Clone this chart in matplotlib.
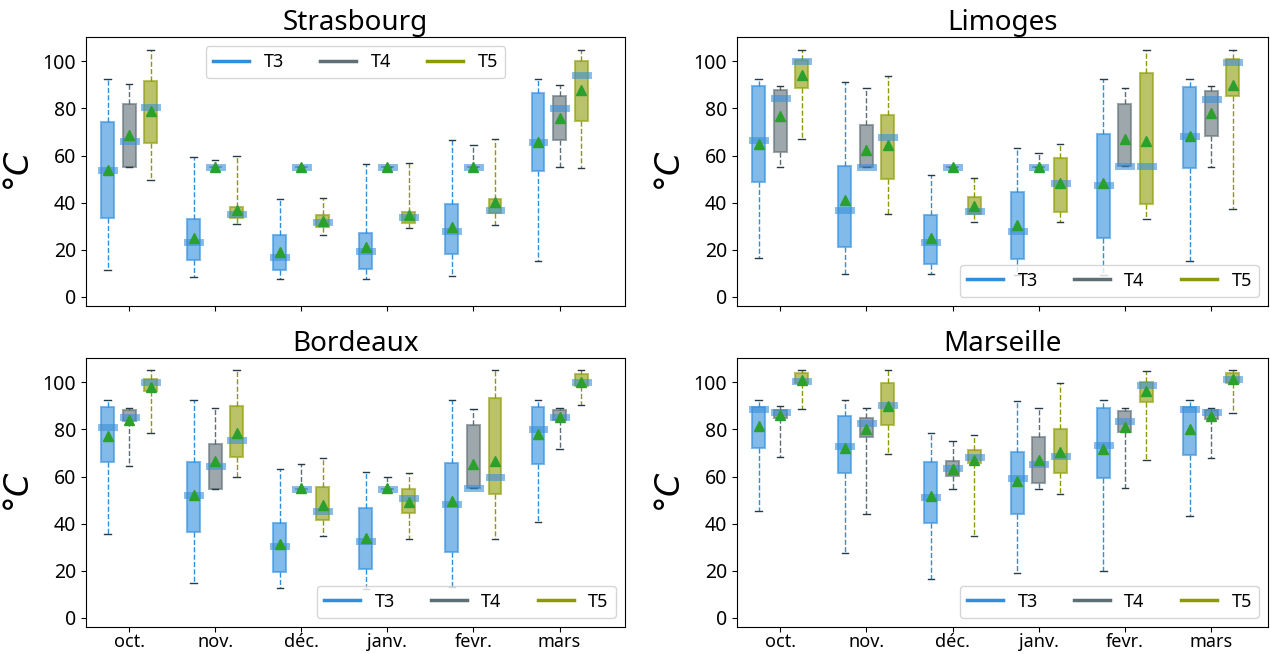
import matplotlib
matplotlib.use("Agg")
import matplotlib.pyplot as plt
from matplotlib.lines import Line2D

plt.rcParams["font.family"] = ["Noto Sans", "DejaVu Sans"]

months = ["oct.", "nov.", "déc.", "janv.", "fevr.", "mars"]
series = ["T3", "T4", "T5"]
colors = {"T3": "#2f8fdc", "T4": "#5d6e75", "T5": "#8c9b05"}

# one row per month: whisker low, q1, median, q3, whisker high, mean
strasbourg_t3 = [[11.5, 33.3, 53.8, 74.2, 92.6, 53.8], [8.2, 15.5, 23.4, 32.8, 59.4, 25.1],
                 [7.5, 11.2, 16.7, 26.0, 41.3, 19.1], [7.4, 11.6, 19.4, 27.1, 56.3, 21.3],
                 [8.9, 18.0, 28.1, 39.3, 66.7, 29.8], [15.2, 53.5, 65.8, 86.5, 92.6, 65.8]]
strasbourg_t4 = [[55.2, 55.2, 66.0, 82.0, 90.2, 68.8], [55.2, 55.2, 55.2, 55.2, 57.9, 55.0],
                 [55.2, 55.2, 55.2, 55.2, 55.2, 55.2], [55.2, 55.2, 55.2, 55.2, 55.2, 55.2],
                 [55.2, 55.2, 55.2, 55.2, 64.3, 55.2], [55.2, 66.8, 80.3, 85.1, 89.8, 76.0]]
strasbourg_t5 = [[49.5, 65.5, 80.6, 91.5, 105.0, 79.1], [30.8, 33.5, 35.3, 38.3, 59.9, 36.9],
                 [26.1, 29.4, 31.6, 34.9, 41.8, 32.2], [29.1, 31.5, 33.8, 35.9, 56.9, 34.9],
                 [30.5, 35.5, 37.0, 41.4, 67.1, 40.1], [54.6, 74.8, 94.3, 100.1, 105.0, 87.9]]

limoges_t3 = [[16.3, 48.9, 66.5, 89.4, 92.6, 65.1], [9.5, 21.3, 36.7, 55.5, 91.3, 41.1],
              [9.5, 14.0, 23.1, 34.8, 51.5, 25.0], [9.2, 16.2, 27.9, 44.4, 63.1, 30.6],
              [9.2, 25.1, 47.4, 69.1, 92.6, 48.5], [15.3, 54.5, 68.1, 89.1, 92.6, 68.1]]
limoges_t4 = [[55.2, 61.3, 84.4, 87.9, 89.6, 76.6], [55.2, 55.2, 55.2, 72.8, 88.7, 62.4],
              [55.2, 55.2, 55.2, 55.2, 55.2, 55.2], [55.2, 55.2, 55.2, 55.2, 60.9, 55.2],
              [55.7, 55.7, 55.7, 81.8, 88.9, 67.0], [55.2, 68.1, 84.1, 87.4, 89.5, 78.0]]
limoges_t5 = [[67.2, 88.5, 100.0, 100.5, 105.0, 94.3], [35.3, 49.9, 67.8, 77.2, 94.0, 64.4],
              [31.6, 35.3, 36.3, 42.4, 50.6, 38.6], [31.9, 36.0, 48.1, 58.9, 65.0, 48.1],
              [32.9, 39.3, 55.7, 95.3, 105.0, 66.1], [37.4, 85.4, 99.9, 101.0, 105.0, 89.9]]

bordeaux_t3 = [[35.7, 66.2, 81.1, 89.5, 92.5, 77.4], [14.5, 36.6, 52.1, 66.1, 92.5, 52.2],
               [12.6, 19.4, 30.6, 40.4, 63.0, 31.1], [12.3, 20.7, 32.6, 46.4, 61.8, 34.0],
               [13.0, 28.1, 48.5, 65.8, 92.5, 49.6], [40.7, 65.5, 80.0, 89.5, 92.5, 77.9]]
bordeaux_t4 = [[64.5, 83.5, 85.1, 88.1, 89.1, 84.0], [54.9, 54.9, 64.5, 74.0, 89.1, 66.5],
               [54.9, 54.9, 54.9, 54.9, 65.4, 55.3], [54.9, 54.9, 54.9, 54.9, 59.6, 55.3],
               [55.2, 55.2, 55.2, 81.8, 88.9, 65.2], [71.8, 84.0, 85.1, 88.1, 89.1, 85.1]]
bordeaux_t5 = [[78.7, 96.2, 100.3, 101.6, 105.1, 97.9], [59.6, 68.4, 75.5, 90.1, 105.1, 78.7],
               [34.9, 41.3, 45.2, 55.7, 67.8, 47.8], [33.6, 44.3, 50.8, 54.6, 61.7, 49.1],
               [33.5, 52.5, 59.6, 93.6, 105.1, 66.4], [90.2, 98.7, 100.3, 103.8, 105.1, 100.0]]

marseille_t3 = [[45.2, 72.2, 88.8, 89.6, 92.5, 81.4], [27.4, 61.6, 72.8, 85.7, 92.5, 72.3],
                [16.3, 40.3, 51.1, 66.1, 78.4, 51.8], [19.1, 44.1, 59.4, 70.5, 92.3, 57.9],
                [19.7, 59.3, 73.2, 89.1, 92.5, 71.9], [43.4, 69.1, 88.8, 89.5, 92.5, 80.4]]
marseille_t4 = [[68.1, 84.7, 87.4, 88.2, 89.8, 86.1], [44.0, 76.9, 82.6, 84.8, 89.2, 80.4],
                [54.9, 60.1, 63.7, 66.8, 75.3, 63.3], [54.9, 57.3, 65.2, 76.6, 89.1, 67.2],
                [55.0, 79.1, 83.7, 87.8, 89.1, 81.1], [67.9, 84.5, 87.4, 88.2, 89.1, 85.8]]
marseille_t5 = [[88.9, 99.9, 100.7, 104.0, 105.1, 100.9], [69.6, 82.0, 90.5, 99.9, 105.1, 90.1],
                [34.9, 65.7, 68.2, 71.1, 77.6, 67.2], [52.6, 61.7, 68.8, 80.0, 99.9, 70.6],
                [67.2, 91.5, 99.0, 100.4, 104.8, 96.2], [86.8, 99.9, 101.3, 104.1, 105.1, 101.3]]

cities = [
    ("Strasbourg", [strasbourg_t3, strasbourg_t4, strasbourg_t5], "upper center"),
    ("Limoges", [limoges_t3, limoges_t4, limoges_t5], "lower right"),
    ("Bordeaux", [bordeaux_t3, bordeaux_t4, bordeaux_t5], "lower right"),
    ("Marseille", [marseille_t3, marseille_t4, marseille_t5], "lower right"),
]


def to_stats(rows):
    return [dict(whislo=r[0], q1=r[1], med=r[2], q3=r[3], whishi=r[4], mean=r[5], fliers=[])
            for r in rows]


fig = plt.figure(figsize=(12.7, 6.54), dpi=100)
W, H = 1270, 654
# axes boxes in pixels: left, top, right, bottom
boxes = [(86, 37, 625, 306), (737, 37, 1268, 306),
         (86, 358, 625, 627), (737, 358, 1268, 627)]
xmax = [5.76, 5.66, 5.76, 5.66]

offsets = [-0.25, 0.0, 0.25]
for i, (name, data, loc) in enumerate(cities):
    l, t, r, b = boxes[i]
    ax = fig.add_axes([l / W, 1 - b / H, (r - l) / W, (b - t) / H])
    for k, s in enumerate(series):
        c = colors[s]
        pos = [m + offsets[k] for m in range(len(months))]
        ax.bxp(to_stats(data[k]), positions=pos, widths=0.15, patch_artist=True,
               showmeans=True, showfliers=False,
               boxprops=dict(facecolor=c, alpha=0.6, edgecolor=c, linewidth=1.5),
               whiskerprops=dict(color=c, linestyle="--", linewidth=1),
               capprops=dict(color="#263a48", linewidth=1),
               medianprops=dict(color="#3a8fd9", linewidth=5, alpha=0.6,
                                solid_capstyle="projecting"),
               meanprops=dict(marker="^", markerfacecolor="#2ca02c",
                              markeredgecolor="#2ca02c", markersize=7))
    ax.set_xlim(-0.5, xmax[i])
    ax.set_ylim(-4, 110.4)
    ax.set_yticks([0, 20, 40, 60, 80, 100])
    ax.set_xticks(range(len(months)))
    if i >= 2:
        ax.set_xticklabels(months, fontsize=13)
        ax.tick_params(axis="x", pad=1)
    else:
        ax.set_xticklabels([])
    ax.tick_params(axis="y", labelsize=14)
    ax.set_title(name, fontsize=20, pad=4)
    ax.set_ylabel(r"$°C$", fontsize=24)
    handles = [Line2D([], [], color=colors[s], linewidth=2.5) for s in series]
    ax.legend(handles, series, loc=loc, ncol=3, fontsize=13)

fig.savefig("out.png", dpi=100)
